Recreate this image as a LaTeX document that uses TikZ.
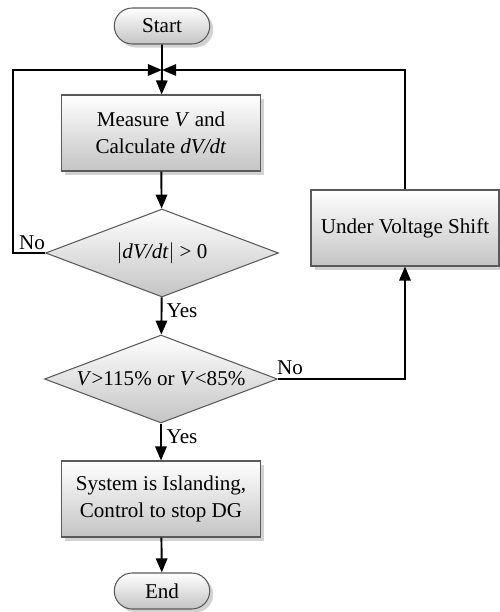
\documentclass[tikz,border=0pt]{standalone}
\usepackage{fontspec}
\setmainfont{Liberation Serif}
\usepackage{tikz}
\usetikzlibrary{shapes.geometric,shapes.misc,arrows.meta,shadows}
\definecolor{flowedge}{RGB}{90,90,90}
\definecolor{flowfill}{RGB}{196,196,196}

\begin{document}
\begin{tikzpicture}[
  x=0.02cm, y=-0.02cm,
  every node/.style={font=\fontsize{12}{15.3}\selectfont},
  stepbox/.style={rectangle, draw=flowedge, line width=0.6pt,
      top color=white, bottom color=flowfill, align=center,
      drop shadow={shadow xshift=2pt, shadow yshift=-2pt, fill=black!35},
      minimum width=3.97cm, minimum height=1.52cm, inner sep=2pt},
  termbox/.style={rounded rectangle, draw=flowedge, line width=0.6pt,
      top color=white, bottom color=flowfill,
      drop shadow={shadow xshift=2pt, shadow yshift=-2pt, fill=black!35},
      minimum width=1.98cm, minimum height=0.72cm, inner sep=1pt},
  testbox/.style={diamond, draw=flowedge, line width=0.6pt,
      top color=white, bottom color=flowfill, inner sep=0pt,
      shape aspect=2.65, minimum width=4.66cm, minimum height=1.76cm},
  flow/.style={line width=1.1pt, -{Triangle[length=8pt,width=6.5pt]}},
  plain/.style={line width=1.1pt},
]
\useasboundingbox (0,0) rectangle (500,612);

% Start / End terminals
\node[termbox] (start) at (162,26) {Start};
\node[termbox] (stop) at (162,591) {End};

% Process boxes
\node[stepbox] (measure) at (161,133) {Measure \textit{V} and\\Calculate \textit{dV/dt}};
\node[stepbox] (island) at (161,499) {System is Islanding,\\Control to stop DG};
\node[stepbox, minimum width=3.76cm] (shift) at (405,228) {Under Voltage Shift};

% Decisions
\node[testbox] (slope) at (162,253) {$|$\textit{dV/dt}$|$ {>} 0};
\node[testbox] (range) at (161,379) {\textit{V}>115\% or \textit{V}<85\%};

% Merge point and loop corners
\coordinate (merge) at (162,70);
\coordinate (leftc) at (13,253);

% Arrows
\draw[plain] (start) -- (merge);
\draw[flow] (merge) -- (measure);
\draw[flow] (measure) -- (slope);
\draw[flow] (slope) -- (range);
\draw[flow] (range) -- (island);
\draw[flow] (island) -- (stop);
\draw[flow] (slope.west) -- (leftc) |- (merge);
\draw[flow] (range.east) -| (shift.south);
\draw[flow] (shift.north) |- (merge);

% Branch labels
\node (noa) at (32,243) {No};
\node (yesa) at (182,311) {Yes};
\node (nob) at (290,368) {No};
\node (yesb) at (182,437) {Yes};
\end{tikzpicture}
\end{document}
